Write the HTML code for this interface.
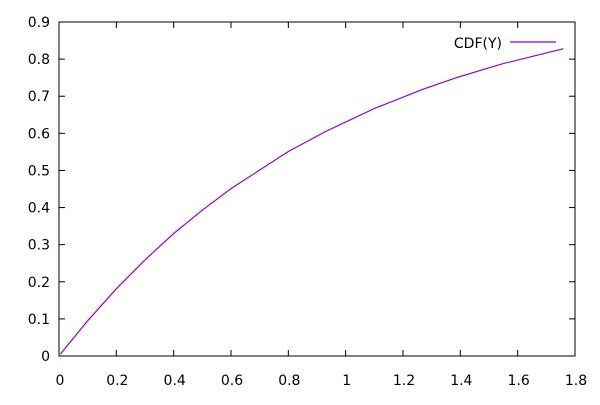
<!DOCTYPE html>
<html><head><meta charset="utf-8"><style>
html,body{margin:0;padding:0;background:#fff;}
svg text{font-family:"DejaVu Sans","Liberation Sans",sans-serif;font-size:14px;fill:#000;}
</style></head><body>
<svg id="chart" width="600" height="400"></svg>
<script>
const xTicks=[0,0.2,0.4,0.6,0.8,1,1.2,1.4,1.6,1.8];
const xTickLabels=["0","0.2","0.4","0.6","0.8","1","1.2","1.4","1.6","1.8"];
const yTicks=[0,0.1,0.2,0.3,0.4,0.5,0.6,0.7,0.8,0.9];
const yTickLabels=["0","0.1","0.2","0.3","0.4","0.5","0.6","0.7","0.8","0.9"];
const xValues=[0.005,0.1,0.2,0.3,0.4,0.5,0.6,0.8,0.93,1.1,1.27,1.39,1.55,1.76];
const yValues=[0.005,0.095,0.181,0.259,0.330,0.393,0.451,0.551,0.605,0.667,0.719,0.751,0.788,0.828];
const seriesName="CDF(Y)";
const L=59,R=575,T=22,B=356;
const xs=v=>L+(v-0)/1.8*(R-L);
const ys=v=>B-(v-0)/0.9*(B-T);
const svg=document.getElementById('chart');
const NS="http://www.w3.org/2000/svg";
function mk(tag,attrs){const e=document.createElementNS(NS,tag);for(const k in attrs)e.setAttribute(k,attrs[k]);svg.appendChild(e);return e;}
const frame=mk('rect',{x:L,y:T,width:R-L,height:B-T,fill:'none',stroke:'#000','stroke-width':1});


xTicks.forEach((v,i)=>{
  const x=xs(v);
  const t1=mk('line',{x1:x,y1:B,x2:x,y2:B-6,stroke:'#000'});
  
  
  const t2=mk('line',{x1:x,y1:T,x2:x,y2:T+6,stroke:'#000'});
  
  
  const tx=mk('text',{x:x+1,y:B+29,'text-anchor':'middle'});
  tx.textContent=xTickLabels[i];
  
  
});
yTicks.forEach((v,i)=>{
  const y=ys(v);
  const t1=mk('line',{x1:L,y1:y,x2:L+6,y2:y,stroke:'#000'});
  
  
  const t2=mk('line',{x1:R,y1:y,x2:R-6,y2:y,stroke:'#000'});
  
  
  const tx=mk('text',{x:L-9,y:y+5,'text-anchor':'end'});
  tx.textContent=yTickLabels[i];
  
  
});
const pts=xValues.map((v,i)=>xs(v).toFixed(1)+','+ys(yValues[i]).toFixed(1)).join(' ');
const line=mk('polyline',{points:pts,fill:'none',stroke:'#9400d3','stroke-width':1.2});


const lt=mk('text',{x:502,y:48,'text-anchor':'end'});
lt.textContent=seriesName;


const ll=mk('line',{x1:510,y1:42,x2:556,y2:42,stroke:'#9400d3','stroke-width':1.2});


</script>
</body></html>
